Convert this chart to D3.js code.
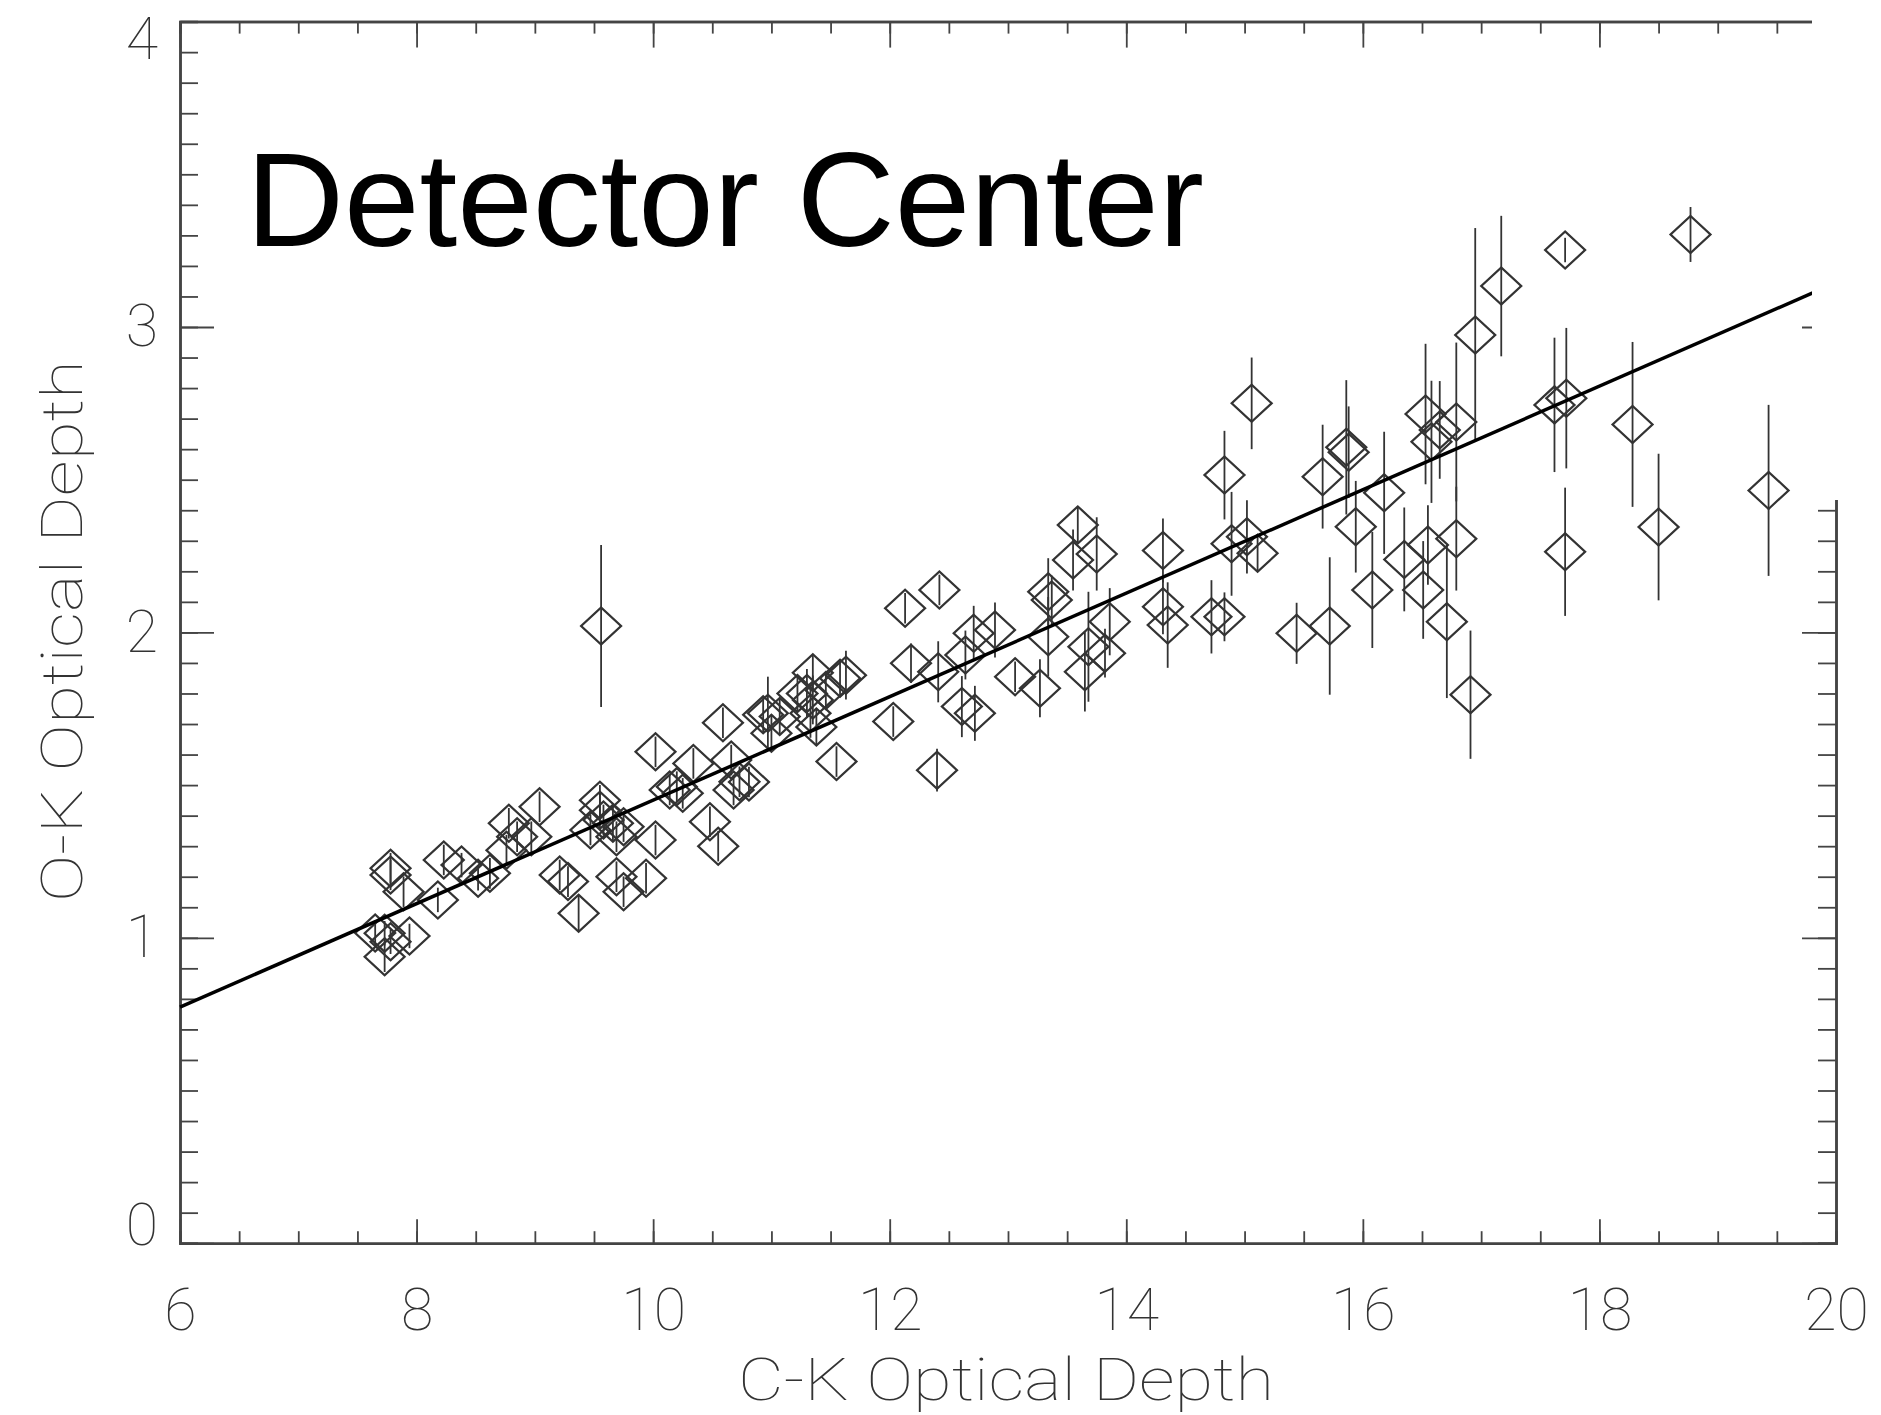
<!DOCTYPE html>
<html>
<head>
<meta charset="utf-8">
<script src="https://cdn.jsdelivr.net/npm/d3@7"></script>
<style>
    body { margin: 0; background: #fff; }
    .tick text, .axis-title { font-family: Roboto, "Liberation Sans", sans-serif; font-weight: 100; fill: #333; }
</style>
</head>
<body>
<div id="chart"></div>
<script>
// C-K vs O-K optical depth, detector center

const width = 1881;
const height = 1415;
const plot = { left: 180, right: 1836, top: 21.6, bottom: 1243.2 };

const xMajor = [6, 8, 10, 12, 14, 16, 18, 20];
const yMajor = [0, 1, 2, 3, 4];

const ckDepth = [
    7.65, 7.73, 7.73, 7.78, 7.94, 7.78, 7.78, 7.89, 8.18, 8.23,
    8.38, 8.52, 8.62, 8.76, 8.78, 8.85, 8.97, 9.04, 9.21, 9.28,
    9.37, 9.56, 9.55, 9.55, 9.47, 9.58, 9.66, 9.69, 9.75, 9.69,
    9.75, 9.94, 10.02, 10.02, 10.14, 10.25, 10.20, 10.34, 10.48, 10.55,
    10.59, 10.66, 10.68, 10.73, 10.81, 10.93, 10.97, 11.00, 11.07, 11.22,
    11.30, 11.33, 11.35, 11.35, 11.38, 11.46, 11.55, 11.58, 11.63, 12.03,
    12.13, 12.18, 12.40, 12.42, 12.41, 12.61, 12.64, 12.71, 12.72, 12.89,
    13.06, 13.27, 13.34, 13.34, 13.37, 13.55, 13.59, 13.65, 13.68, 13.75,
    13.82, 13.86, 14.31, 14.31, 14.35, 14.72, 14.83, 14.83, 14.89, 15.02,
    15.06, 15.11, 15.44, 15.66, 15.72, 15.86, 15.88, 15.94, 16.08, 16.18,
    16.35, 16.51, 16.53, 16.55, 16.58, 16.65, 16.71, 16.79, 16.79, 16.91,
    16.95, 17.17, 17.62, 17.71, 17.71, 17.72, 18.28, 18.50, 18.77, 19.43
];

const okDepth = [
    1.016, 1.015, 0.938, 0.987, 1.006, 1.228, 1.206, 1.151, 1.124, 1.255,
    1.238, 1.195, 1.211, 1.287, 1.375, 1.331, 1.331, 1.429, 1.206, 1.184,
    1.080, 2.021, 1.418, 1.450, 1.353, 1.386, 1.375, 1.331, 1.364, 1.200,
    1.151, 1.195, 1.320, 1.609, 1.484, 1.473, 1.495, 1.571, 1.380, 1.300,
    1.704, 1.582, 1.484, 1.511, 1.510, 1.730, 1.735, 1.670, 1.725, 1.800,
    1.800, 1.735, 1.868, 1.779, 1.690, 1.810, 1.577, 1.850, 1.860, 1.708,
    2.079, 1.899, 1.549, 2.139, 1.871, 1.757, 1.926, 1.997, 1.735, 2.008,
    1.855, 1.817, 1.986, 2.133, 2.106, 2.237, 2.352, 1.871, 1.953, 2.257,
    1.932, 2.035, 2.268, 2.084, 2.024, 2.051, 2.051, 2.515, 2.290, 2.313,
    2.750, 2.259, 1.997, 2.510, 2.021, 2.606, 2.590, 2.346, 2.139, 2.457,
    2.239, 2.139, 2.715, 2.286, 2.624, 2.663, 2.035, 2.689, 2.307, 1.796,
    2.974, 3.134, 2.745, 3.252, 2.264, 2.767, 2.681, 2.345, 3.303, 2.465
];

const okErr = [
    0.04, 0.04, 0.05, 0.04, 0.04, 0.05, 0.05, 0.05, 0.04, 0.05,
    0.04, 0.04, 0.05, 0.05, 0.05, 0.05, 0.05, 0.05, 0.05, 0.05,
    0.06, 0.265, 0.06, 0.05, 0.05, 0.05, 0.06, 0.05, 0.05, 0.05,
    0.05, 0.05, 0.05, 0.05, 0.05, 0.05, 0.05, 0.05, 0.05, 0.05,
    0.05, 0.05, 0.05, 0.05, 0.05, 0.06, 0.12, 0.06, 0.06, 0.06,
    0.08, 0.08, 0.06, 0.08, 0.06, 0.06, 0.05, 0.06, 0.08, 0.05,
    0.05, 0.065, 0.07, 0.05, 0.10, 0.10, 0.08, 0.09, 0.09, 0.09,
    0.05, 0.095, 0.13, 0.11, 0.08, 0.10, 0.06, 0.13, 0.18, 0.12,
    0.08, 0.11, 0.105, 0.09, 0.14, 0.12, 0.08, 0.145, 0.17, 0.12,
    0.15, 0.06, 0.10, 0.17, 0.225, 0.22, 0.15, 0.15, 0.19, 0.20,
    0.17, 0.16, 0.23, 0.13, 0.20, 0.16, 0.25, 0.26, 0.17, 0.21,
    0.35, 0.23, 0.22, 0.04, 0.21, 0.23, 0.27, 0.24, 0.09, 0.28
];

// linear fit, evaluated at the ends of the x range
const fitX = [6, 20];
const fitY = [0.773, 3.145];

const points = ckDepth.map((d, i) => ({ x: d, y: okDepth[i], err: okErr[i] }));

const svg = d3.select("#chart")
    .append("svg")
    .attr("width", width)
    .attr("height", height)
    .style("display", "block");

svg.append("rect")
    .attr("width", width)
    .attr("height", height)
    .attr("fill", "#fff");

const x = d3.scaleLinear().domain([6, 20]).range([plot.left, plot.right]);
const y = d3.scaleLinear().domain([0, 4]).range([plot.bottom, plot.top]);

const xMinor = d3.range(6, 20.001, 0.5);
const yMinor = d3.range(0, 4.001, 0.1);

function styleAxis(g) {
    g.select(".domain").attr("stroke", "#444").attr("stroke-width", 2.5);
    g.selectAll(".tick line").attr("stroke", "#444").attr("stroke-width", 1.8);
    g.selectAll(".tick text").attr("font-size", 59).attr("fill", "#333");
}

// minor ticks first, majors on top
svg.append("g").attr("transform", `translate(0,${y(0)})`)
    .call(d3.axisBottom(x).tickValues(xMinor).tickSize(-12).tickFormat(""))
    .call(styleAxis);
svg.append("g").attr("transform", `translate(0,${y(4)})`)
    .call(d3.axisTop(x).tickValues(xMinor).tickSize(-12).tickFormat(""))
    .call(styleAxis);
svg.append("g").attr("transform", `translate(${x(6)},0)`)
    .call(d3.axisLeft(y).tickValues(yMinor).tickSize(-18).tickFormat(""))
    .call(styleAxis);
svg.append("g").attr("transform", `translate(${x(20)},0)`)
    .call(d3.axisRight(y).tickValues(yMinor).tickSize(-18).tickFormat(""))
    .call(styleAxis);

svg.append("g").attr("transform", `translate(0,${y(0)})`)
    .call(d3.axisBottom(x).tickValues(xMajor).tickSizeInner(-24).tickSizeOuter(0).tickPadding(45).tickFormat(d3.format("d")))
    .call(styleAxis);
svg.append("g").attr("transform", `translate(0,${y(4)})`)
    .call(d3.axisTop(x).tickValues(xMajor).tickSizeInner(-26).tickSizeOuter(0).tickFormat(""))
    .call(styleAxis);
const gLeft = svg.append("g").attr("transform", `translate(${x(6)},0)`)
    .call(d3.axisLeft(y).tickValues(yMajor).tickSizeInner(-34).tickSizeOuter(0).tickPadding(22).tickFormat(d3.format("d")))
    .call(styleAxis);
svg.append("g").attr("transform", `translate(${x(20)},0)`)
    .call(d3.axisRight(y).tickValues(yMajor).tickSizeInner(-34).tickSizeOuter(0).tickFormat(""))
    .call(styleAxis);

// end labels are pulled inside like the original
gLeft.selectAll(".tick text")
    .attr("transform", d => d === 4 ? "translate(0,18)" : d === 0 ? "translate(0,-18)" : null);

// error bars
svg.append("g")
    .selectAll("line")
    .data(points)
    .enter()
    .append("line")
    .attr("x1", d => x(d.x))
    .attr("x2", d => x(d.x))
    .attr("y1", d => y(d.y + d.err))
    .attr("y2", d => y(d.y - d.err))
    .attr("stroke", "#333")
    .attr("stroke-width", 1.8);

// diamonds
const diamond = d3.symbol(d3.symbolSquare, 800);
svg.append("g")
    .selectAll("path")
    .data(points)
    .enter()
    .append("path")
    .attr("d", diamond)
    .attr("transform", d => `translate(${x(d.x)},${y(d.y)}) scale(1,0.925) rotate(45)`)
    .attr("fill", "none")
    .attr("stroke", "#333")
    .attr("stroke-width", 2.3);

// fit line
svg.append("path")
    .datum(fitX.map((d, i) => [d, fitY[i]]))
    .attr("d", d3.line().x(d => x(d[0])).y(d => y(d[1])))
    .attr("fill", "none")
    .attr("stroke", "#000")
    .attr("stroke-width", 3.5);

// the top right corner of the original is blanked out
svg.append("rect")
    .attr("x", 1812)
    .attr("y", 0)
    .attr("width", width - 1812)
    .attr("height", 500)
    .attr("fill", "#fff");

svg.append("text")
    .attr("class", "axis-title")
    .attr("x", 1006)
    .attr("y", 1400)
    .attr("text-anchor", "middle")
    .attr("font-size", 59)
    .attr("textLength", 536)
    .attr("lengthAdjust", "spacingAndGlyphs")
    .text("C-K Optical Depth");

svg.append("text")
    .attr("class", "axis-title")
    .attr("transform", "translate(82,631) rotate(-90)")
    .attr("text-anchor", "middle")
    .attr("font-size", 57)
    .attr("textLength", 542)
    .attr("lengthAdjust", "spacingAndGlyphs")
    .text("O-K Optical Depth");

svg.append("text")
    .attr("x", 246)
    .attr("y", 246)
    .attr("font-family", "'Liberation Sans', Arial, sans-serif")
    .attr("font-size", 133)
    .attr("textLength", 958)
    .attr("lengthAdjust", "spacingAndGlyphs")
    .attr("fill", "#000")
    .text("Detector Center");
</script>
</body>
</html>
